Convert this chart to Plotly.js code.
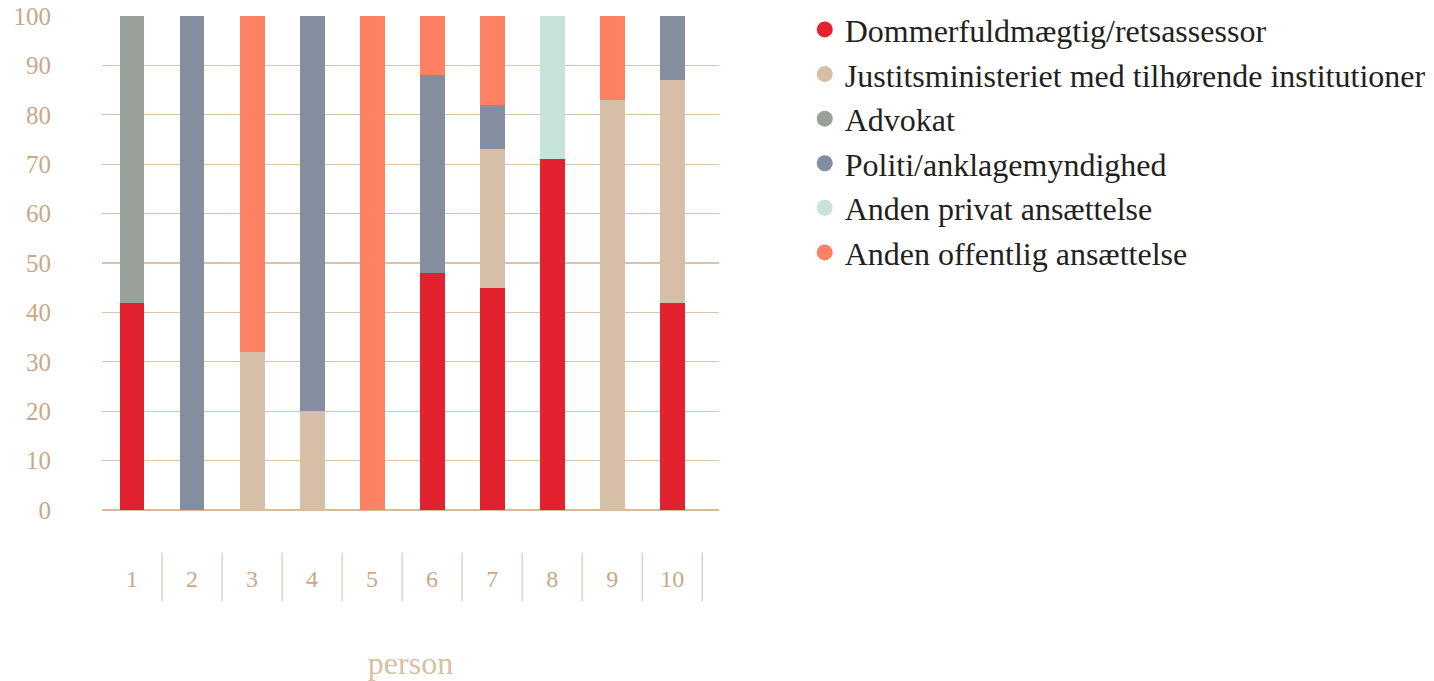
<!DOCTYPE html>
<html>
<head>
<meta charset="utf-8">
<script src="https://cdn.plot.ly/plotly-3.0.1.min.js"></script>
<style>html,body{margin:0;padding:0;background:#fff;}#chart{width:1434px;height:681px;}</style>
</head>
<body>
<div id="chart"></div>
<script>
const persons = ['1','2','3','4','5','6','7','8','9','10'];
const seriesNames = ['Dommerfuldmægtig/retsassessor','Justitsministeriet med tilhørende institutioner','Advokat','Politi/anklagemyndighed','Anden privat ansættelse','Anden offentlig ansættelse'];
const dommer     = [42, 0,  0,  0,  0, 48, 45, 71,  0, 42];
const justits    = [ 0, 0, 32, 20,  0,  0, 28,  0, 83, 45];
const advokat    = [58, 0,  0,  0,  0,  0,  0,  0,  0,  0];
const politi     = [ 0,100, 0, 80,  0, 40,  9,  0,  0, 13];
const privat     = [ 0, 0,  0,  0,  0,  0,  0, 29,  0,  0];
const offentlig  = [ 0, 0, 68,  0,100, 12, 18,  0, 17,  0];
const yTicks = [0,10,20,30,40,50,60,70,80,90,100];

const values = [dommer, justits, advokat, politi, privat, offentlig];
const colors = ['#e3222f','#d7bea7','#98a197','#848e9f','#c8e4da','#ff8163'];
const serif = '"Liberation Serif", "DejaVu Serif", serif';

const traces = [];
values.forEach((v, i) => {
  traces.push({
    type: 'bar', x: persons, y: v, name: seriesNames[i],
    marker: {color: colors[i], line: {width: 0}},
    width: 0.415, showlegend: false, legendgroup: 'g' + i,
    hovertemplate: '%{x}: %{y}<extra>' + seriesNames[i] + '</extra>'
  });
});
values.forEach((v, i) => {
  traces.push({
    type: 'scatter', mode: 'markers', x: [null], y: [null], name: seriesNames[i],
    marker: {color: colors[i], size: 16, symbol: 'circle'},
    showlegend: true, legendgroup: 'g' + i, hoverinfo: 'skip'
  });
});

const shapes = persons.map((p, i) => ({
  type: 'line', xref: 'x', yref: 'paper',
  x0: i + 0.5, x1: i + 0.5, y0: -0.086, y1: -0.185,
  line: {color: '#d6bc9f', width: 1}
}));

const layout = {
  width: 1434, height: 681,
  margin: {l: 102, r: 715, t: 16, b: 170.5, autoexpand: false},
  paper_bgcolor: '#fff', plot_bgcolor: '#fff',
  barmode: 'stack',
  font: {family: serif, color: '#231f20'},
  xaxis: {
    type: 'category', range: [-0.5, 9.78],
    showgrid: false, zeroline: false, showline: false,
    ticks: '', ticklabelstandoff: 52,
    tickfont: {family: serif, size: 24, color: '#c9a886'},
    title: {text: 'person', font: {family: serif, size: 32, color: '#d8c0a5'}, standoff: 62}
  },
  yaxis: {
    range: [0, 100], tickvals: yTicks, ticktext: yTicks.map(String),
    showgrid: true, gridcolor: '#d9c3aa', gridwidth: 1.2,
    zeroline: true, zerolinecolor: '#d6bc9f', zerolinewidth: 1.5,
    showline: false, ticks: '', ticklabelstandoff: 50,
    tickfont: {family: serif, size: 25, color: '#c9a886'}
  },
  legend: {
    x: 1.139, xanchor: 'left', y: 1.028, yanchor: 'top',
    font: {family: serif, size: 32, color: '#231f20'},
    traceorder: 'normal', tracegroupgap: 5,
    itemclick: false, itemdoubleclick: false
  },
  shapes: shapes,
  showlegend: true
};

Plotly.newPlot('chart', traces, layout, {displayModeBar: false, staticPlot: true});
</script>
</body>
</html>
